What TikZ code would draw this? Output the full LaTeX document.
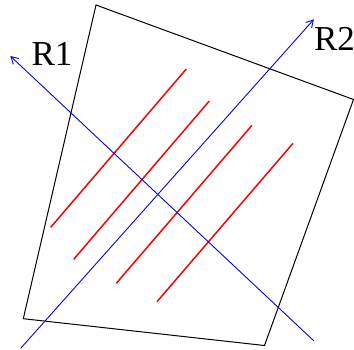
\documentclass[tikz,border=0pt]{standalone}
\usepackage{fontspec}
\setmainfont{Liberation Serif}
\usetikzlibrary{arrows.meta}
\begin{document}
\begin{tikzpicture}[x=1pt,y=-1pt,
  frame/.style={draw=black,line width=1pt,line join=miter},
  hatch/.style={draw=red,line width=1.5pt},
  ray/.style={draw=blue,line width=0.9pt,-{Straight Barb[length=7pt,width=8pt,line width=0.9pt]}},
  lab/.style={inner sep=0pt,font=\fontsize{35}{42}\selectfont}]
\useasboundingbox (0,0) rectangle (354,349);
% quadrilateral
\coordinate (q1) at (96,5);
\coordinate (q2) at (353.5,99.5);
\coordinate (q3) at (264.5,345.5);
\coordinate (q4) at (23.3,318.7);
\draw[frame] (q1) -- (q2) -- (q3) -- (q4) -- cycle;
% red lines
\coordinate (a1) at (50.7,227.3); \coordinate (b1) at (186.3,69);
\coordinate (a2) at (73.7,259.3); \coordinate (b2) at (209.3,101);
\coordinate (a3) at (116.3,283.3); \coordinate (b3) at (252,125.3);
\coordinate (a4) at (157,301.7); \coordinate (b4) at (293,143.3);
\draw[hatch] (a1) -- (b1);
\draw[hatch] (a2) -- (b2);
\draw[hatch] (a3) -- (b3);
\draw[hatch] (a4) -- (b4);
% rays
\coordinate (r1s) at (313.7,340.7); \coordinate (r1e) at (10.3,56);
\coordinate (r2s) at (20.7,348.3); \coordinate (r2e) at (313.9,19.3);
\draw[ray] (r1s) -- (r1e);
\draw[ray] (r2s) -- (r2e);
\node[lab] (R1) at (52,53.5) {R1};
\node[lab] (R2) at (334.5,39.2) {R2};
\end{tikzpicture}
\end{document}
